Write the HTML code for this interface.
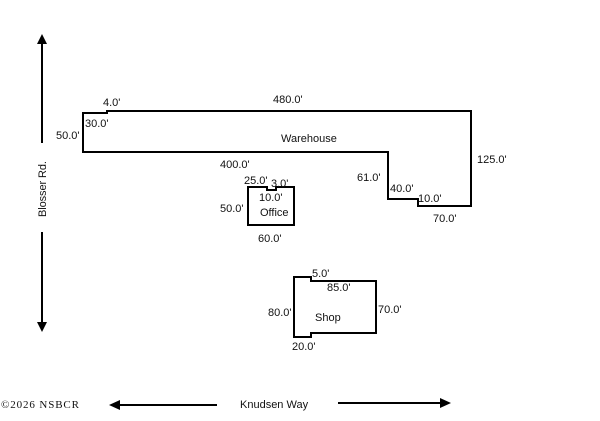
<!DOCTYPE html>
<html><head><style>body{margin:0;background:#fff}svg{display:block}text{font-family:"Liberation Sans",Arial,sans-serif;font-size:11px;fill:#111}</style></head>
<body>
<svg width="600" height="421" viewBox="0 0 600 421" xmlns="http://www.w3.org/2000/svg">
<g fill="none" stroke="#000" stroke-width="2">
<path d="M83,113 L107,113 L107,111 L471,111 L471,206 L418,206 L418,199 L388,199 L388,152 L83,152 Z"/>
<path d="M248,187 L267,187 L267,190 L276,190 L276,187 L294,187 L294,225 L248,225 Z"/>
<path d="M294,277 L311,277 L311,281 L376,281 L376,333 L311,333 L311,337 L294,337 Z"/>
<line x1="42" y1="42" x2="42" y2="143"/>
<line x1="42" y1="232" x2="42" y2="326"/>
<line x1="118" y1="405" x2="217" y2="405"/>
<line x1="338" y1="403" x2="443" y2="403"/>
</g>
<g fill="#000">
<polygon points="42,34 37,44 47,44"/>
<polygon points="42,332 37,322 47,322"/>
<polygon points="109,405 120,400 120,410"/>
<polygon points="451,403 440,398 440,408"/>
</g>
<text x="103" y="106">4.0'</text>
<text x="273" y="103">480.0'</text>
<text x="85" y="127">30.0'</text>
<text x="56" y="139">50.0'</text>
<text x="281" y="142">Warehouse</text>
<text x="220" y="168">400.0'</text>
<text x="357" y="181">61.0'</text>
<text x="477" y="163">125.0'</text>
<text x="390" y="192">40.0'</text>
<text x="418" y="202">10.0'</text>
<text x="433" y="222">70.0'</text>
<text x="244" y="184">25.0'</text>
<text x="271" y="187">3.0'</text>
<text x="259" y="201">10.0'</text>
<text x="220" y="212">50.0'</text>
<text x="260" y="216">Office</text>
<text x="258" y="242">60.0'</text>
<text x="312" y="277">5.0'</text>
<text x="327" y="291">85.0'</text>
<text x="268" y="316">80.0'</text>
<text x="315" y="321">Shop</text>
<text x="378" y="313">70.0'</text>
<text x="292" y="350">20.0'</text>
<text x="240" y="408">Knudsen Way</text>
<text x="1" y="408" textLength="78" style="font-family:'Liberation Serif',serif;font-size:11px">©2026 NSBCR</text>
<text transform="translate(46,217) rotate(-90)" textLength="56">Blosser Rd.</text>
</svg>
</body></html>
